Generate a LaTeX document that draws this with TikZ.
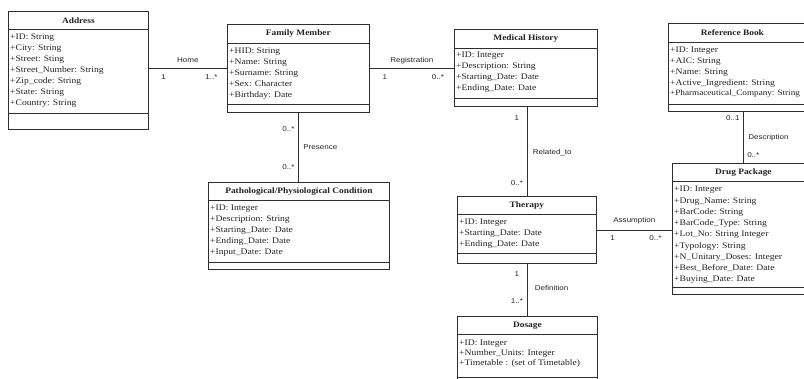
\documentclass[tikz,border=0pt]{standalone}
\usepackage{fontspec}
\setmainfont{Liberation Serif}[FakeStretch=1.13]
\newfontfamily\lblfont{Liberation Sans}[FakeStretch=1.15]
\usetikzlibrary{positioning}

\definecolor{umlline}{HTML}{2E2E2E}
\definecolor{umltext}{HTML}{222222}

\begin{document}
\begin{tikzpicture}[
  x=1pt, y=-1pt,
  cls/.style={draw=umlline, line width=0.75pt, inner sep=0pt, anchor=north west},
  crule/.style={draw=umlline, line width=0.65pt},
  ctitle/.style={font=\bfseries\fontsize{8.3}{10}\selectfont, text=umltext, inner sep=0pt},
  cattr/.style={font=\fontsize{8.5}{11}\selectfont, text=umltext, align=left, inner sep=0pt, anchor=north west},
  assoc/.style={draw=umlline, line width=0.75pt},
  lbl/.style={font=\lblfont\fontsize{7}{8}\selectfont, text=umltext, inner sep=0.5pt},
]
  \useasboundingbox (0,0) rectangle (804,378);
  \clip (0,0) rectangle (804,378);

  % classes
  \node[cls, minimum width=140pt, minimum height=118pt] (addr) at (8,11) {};
  \node[cls, minimum width=142pt, minimum height=88pt] (fam) at (227,24) {};
  \node[cls, minimum width=143pt, minimum height=77pt] (med) at (454,29) {};
  \node[cls, minimum width=150pt, minimum height=88pt] (ref) at (668,23) {};
  \node[cls, minimum width=181pt, minimum height=87pt] (path) at (208,182) {};
  \node[cls, minimum width=139pt, minimum height=67pt] (ther) at (457,196) {};
  \node[cls, minimum width=142pt, minimum height=131pt] (drug) at (672,163) {};
  \node[cls, minimum width=140pt, minimum height=70pt] (dos) at (457,316) {};

  % compartment rules
  \foreach \c/\t/\b in {addr/18/16, fam/19/8, med/19/8, ref/19/7, path/18/7, ther/18/10, drug/18/7, dos/18/9}{
    \draw[crule] ([yshift=-\t pt]\c.north west) -- ([yshift=-\t pt]\c.north east);
    \draw[crule] ([yshift=\b pt]\c.south west) -- ([yshift=\b pt]\c.south east);
  }

  % class names
  \node[ctitle] (addrT) at ([yshift=-9.5pt]addr.north) {Address};
  \node[ctitle] (famT) at ([yshift=-9.5pt]fam.north) {Family Member};
  \node[ctitle] (medT) at ([yshift=-9.5pt]med.north) {Medical History};
  \node[ctitle] (refT) at ([xshift=-11pt,yshift=-9.5pt]ref.north) {Reference Book};
  \node[ctitle] (pathT) at ([yshift=-9.5pt]path.north) {Pathological/Physiological Condition};
  \node[ctitle] (therT) at ([yshift=-9.5pt]ther.north) {Therapy};
  \node[ctitle] (drugT) at ([yshift=-9.5pt]drug.north) {Drug Package};
  \node[ctitle] (dosT) at ([yshift=-9.5pt]dos.north) {Dosage};

  % attributes
  \node[cattr] (addrA) at ([xshift=2pt,yshift=-23pt]addr.north west) {+ID: String\\+City: String\\+Street: Sting\\+Street\_Number: String\\+Zip\_code: String\\+State: String\\+Country: String};
  \node[cattr] (famA) at ([xshift=2pt,yshift=-24pt]fam.north west) {+HID: String\\+Name: String\\+Surname: String\\+Sex: Character\\+Birthday: Date};
  \node[cattr] (medA) at ([xshift=2pt,yshift=-22.5pt]med.north west) {+ID: Integer\\+Description: String\\+Starting\_Date: Date\\+Ending\_Date: Date};
  \node[cattr, font=\fontsize{8.5}{10.8}\selectfont] (refA) at ([xshift=2pt,yshift=-24pt]ref.north west) {+ID: Integer\\+AIC: String\\+Name: String\\+Active\_Ingredient: String\\{\fontsize{8.1}{10.8}\selectfont +Pharmaceutical\_Company: String}};
  \node[cattr] (pathA) at ([xshift=2pt,yshift=-23pt]path.north west) {+ID: Integer\\+Description: String\\+Starting\_Date: Date\\+Ending\_Date: Date\\+Input\_Date: Date};
  \node[cattr] (therA) at ([xshift=2pt,yshift=-23pt]ther.north west) {+ID: Integer\\+Starting\_Date: Date\\+Ending\_Date: Date};
  \node[cattr, font=\fontsize{8.5}{11.25}\selectfont] (drugA) at ([xshift=2pt,yshift=-23pt]drug.north west) {+ID: Integer\\+Drug\_Name: String\\+BarCode: String\\+BarCode\_Type: String\\+Lot\_No: String Integer\\+Typology: String\\+N\_Unitary\_Doses: Integer\\+Best\_Before\_Date: Date\\+Buying\_Date: Date};
  \node[cattr, font=\fontsize{8.5}{10}\selectfont] (dosA) at ([xshift=2pt,yshift=-24pt]dos.north west) {+ID: Integer\\+Number\_Units: Integer\\+Timetable : (set of Timetable)};

  % associations
  \draw[assoc] (addr.east |- fam.west) -- node[lbl, above=5pt] (homeL) {Home}
    node[lbl, below=5pt, pos=0.19] (homeA) {1} node[lbl, below=5pt, pos=0.8] (homeB) {1..*} (fam.west);
  \draw[assoc] (fam.east) -- node[lbl, above=4pt] (regL) {Registration}
    node[lbl, below=5pt, pos=0.18] (regA) {1} node[lbl, below=5pt, pos=0.81] (regB) {0..*} (fam.east -| med.west);
  \draw[assoc] (fam.south) -- node[lbl, right=4pt] (presL) {Presence}
    node[lbl, left=3pt, pos=0.23] (presA) {0..*} node[lbl, left=3pt, pos=0.79] (presB) {0..*} (fam.south |- path.north);
  \draw[assoc] (ther.north |- med.south) -- node[lbl, right=5pt, pos=0.51] (relL) {Related\_to}
    node[lbl, left=7pt, pos=0.13] (relA) {1} node[lbl, left=3pt, pos=0.86] (relB) {0..*} (ther.north);
  \draw[assoc] (ref.south) -- node[lbl, right=4pt, pos=0.5] (descL) {Description}
    node[lbl, left=3pt, pos=0.13] (descA) {0..1} node[lbl, right=3pt, pos=0.85] (descB) {0..*} (drug.north);
  \draw[assoc] (ther.east) -- node[lbl, above=5pt] (assL) {Assumption}
    node[lbl, below=5pt, pos=0.21] (assA) {1} node[lbl, below=5pt, pos=0.78] (assB) {0..*} (ther.east -| drug.west);
  \draw[assoc] (ther.south) -- node[lbl, right=7pt, pos=0.47] (defL) {Definition}
    node[lbl, left=7pt, pos=0.2] (defA) {1} node[lbl, left=3pt, pos=0.71] (defB) {1..*} (ther.south |- dos.north);
\end{tikzpicture}
\end{document}
